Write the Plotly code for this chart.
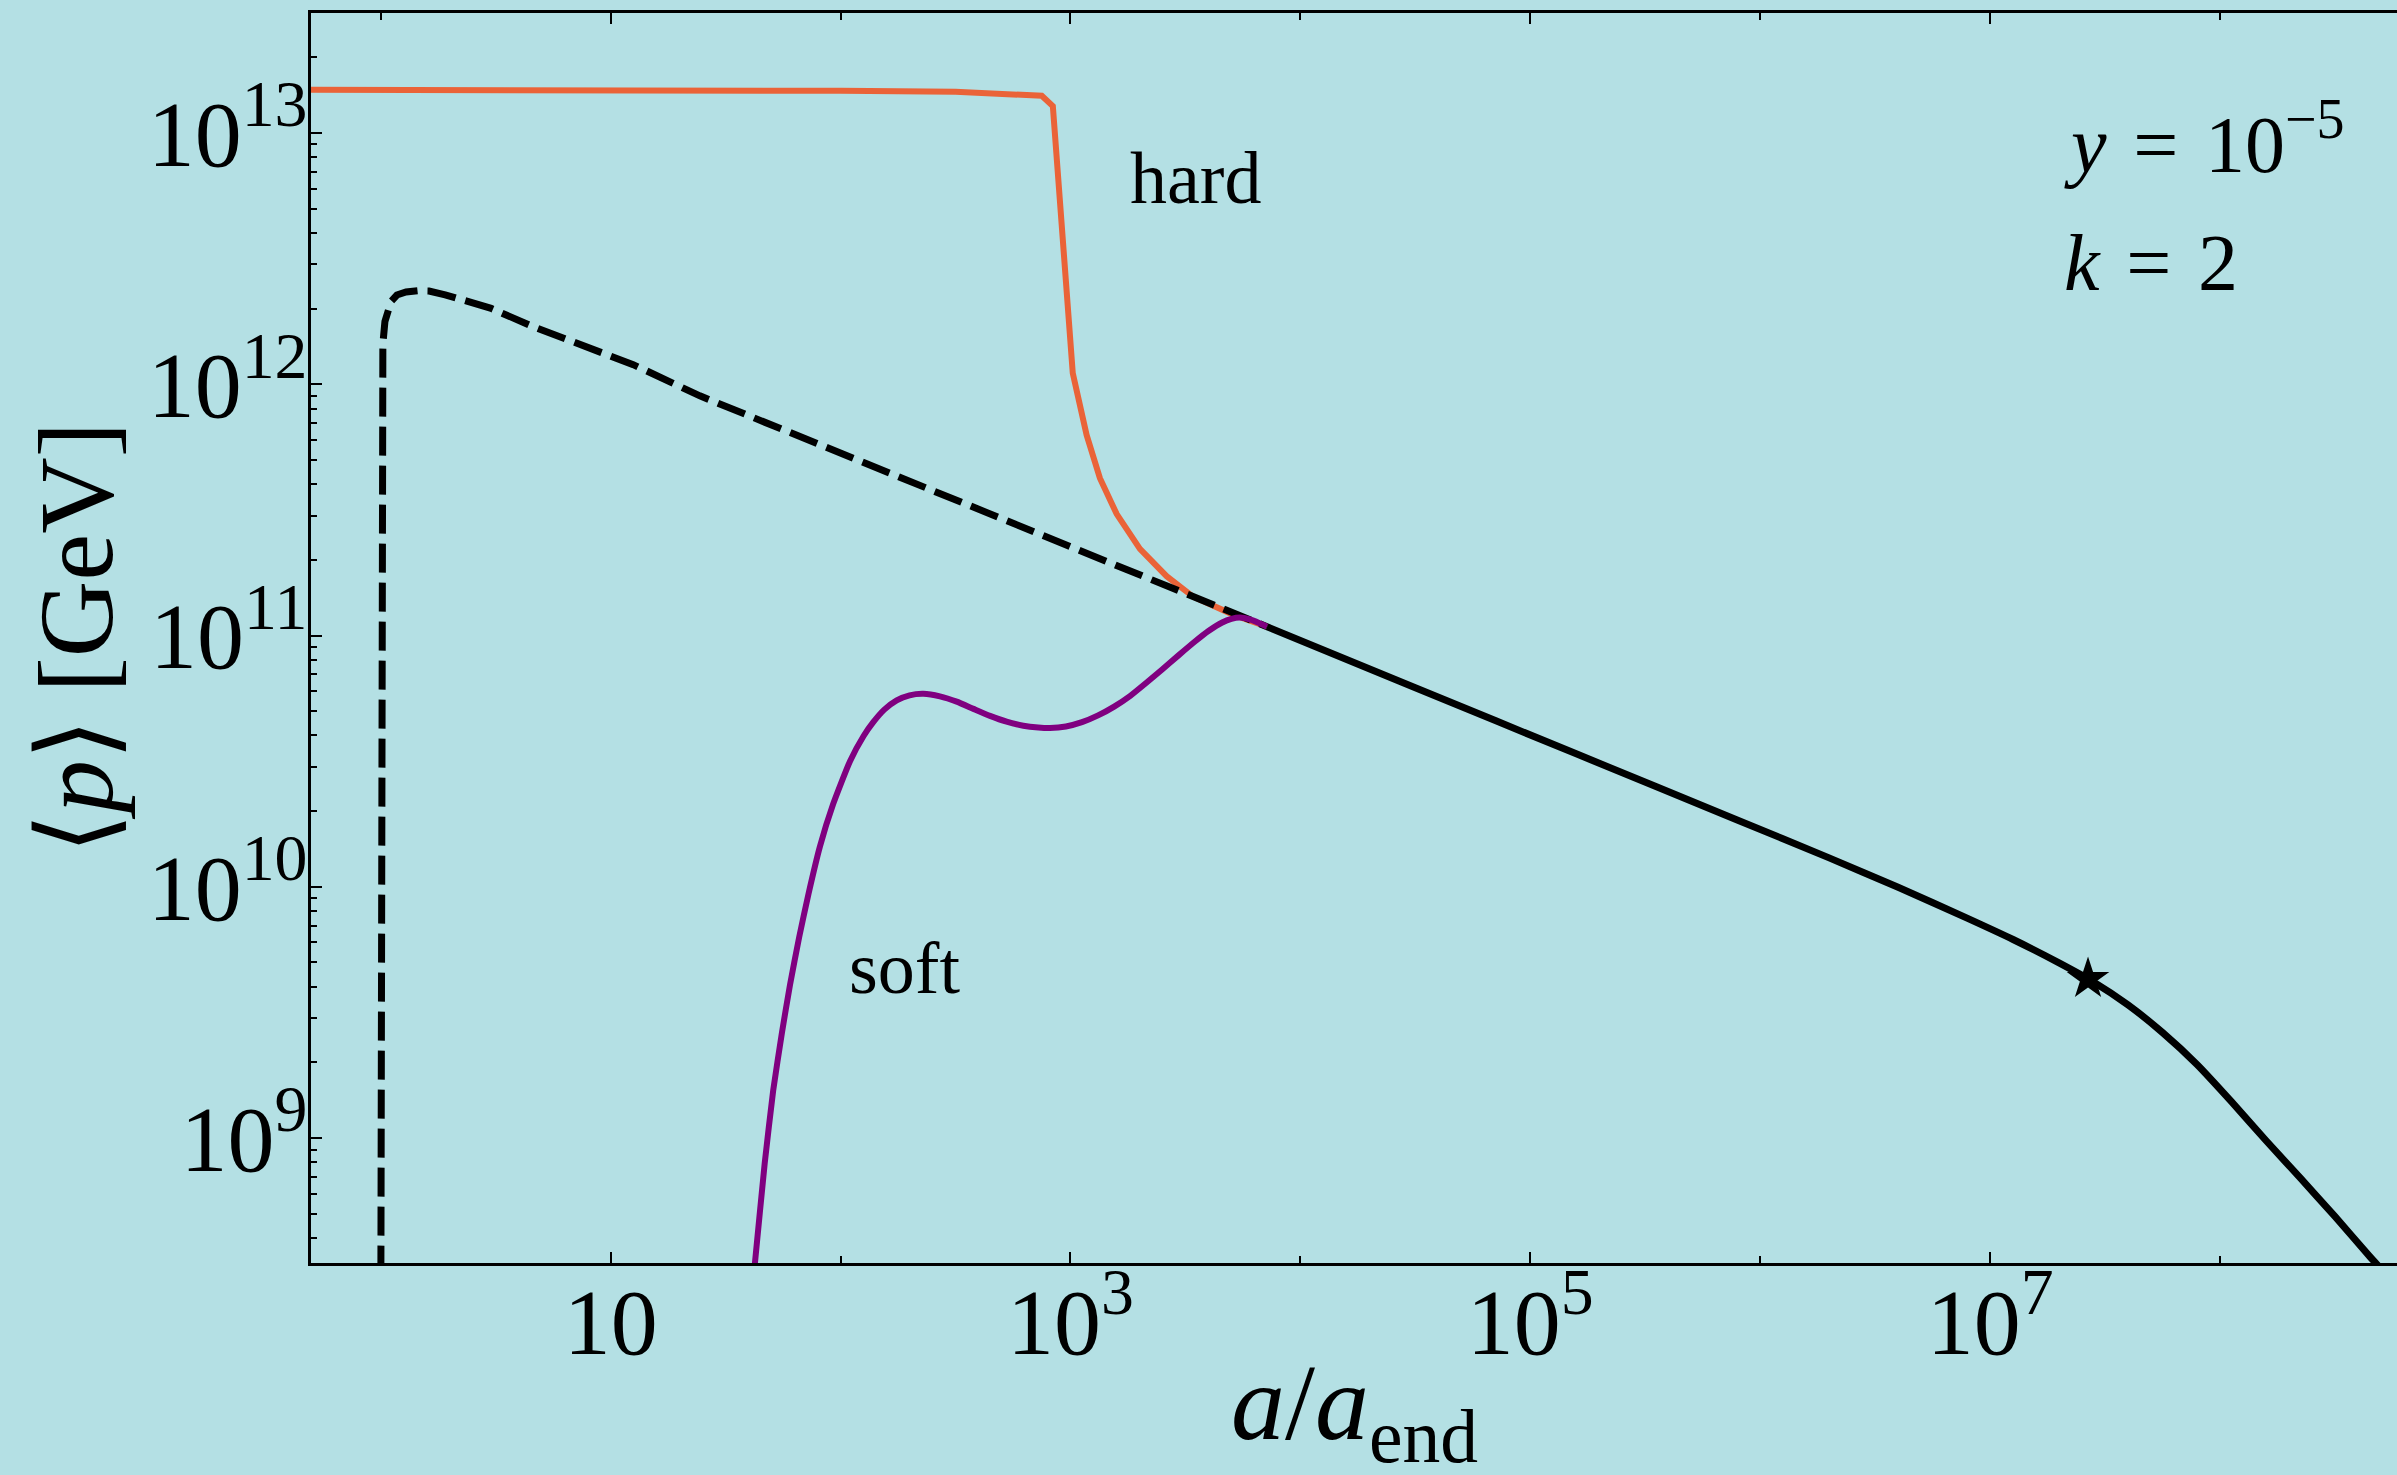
import plotly.graph_objects as go

# ---- data -------------------------------------------------------------
# hard component (orange)
a_hard = [0.49, 10, 100, 316, 676, 750, 838, 1023, 1175, 1343, 1589,
          2004, 2618, 3420, 5093, 7161]
p_hard = [1.486e13, 1.483e13, 1.472e13, 1.459e13, 1.429e13, 1.406e13,
          1.279e13, 1.107e12, 6.28e11, 4.227e11, 3.041e11, 2.213e11,
          1.722e11, 1.426e11, 1.211e11, 1.084e11]

# soft component (purple)
a_soft = [39.81, 42.46, 46.77, 50.93, 55.59, 60.26, 66.07, 72.44, 81.28,
          92.90, 109.9, 125.9, 138.7, 154.9, 175.4, 199.5, 229.1, 270.4,
          319.9, 378.4, 446.7, 527.2, 623.7, 724.4, 814.7, 955.0, 1122,
          1318, 1549, 1820, 2138, 2512, 2951, 3467, 3981, 4571, 5012, 5458,
          6026, 6607, 7161]
p_soft = [1.82e8, 3.221e8, 7.943e8, 1.549e9, 2.630e9, 4.074e9, 6.310e9,
          9.333e9, 1.445e10, 2.138e10, 3.162e10, 3.981e10, 4.519e10,
          5.070e10, 5.521e10, 5.781e10, 5.861e10, 5.728e10, 5.458e10,
          5.105e10, 4.786e10, 4.539e10, 4.375e10, 4.305e10, 4.285e10,
          4.345e10, 4.519e10, 4.808e10, 5.212e10, 5.754e10, 6.486e10,
          7.345e10, 8.337e10, 9.441e10, 1.042e11, 1.127e11, 1.164e11,
          1.178e11, 1.159e11, 1.122e11, 1.084e11]

# total mean momentum before thermalisation (black dashed)
a_early = [1.0, 1.0046, 1.0093, 1.0139, 1.0209, 1.0423, 1.074, 1.1092,
           1.1749, 1.2882, 1.4454, 1.6218, 1.9055, 2.366, 3.020, 4.603,
           12.53, 24.43, 100, 528.4, 1995, 7161]
p_early = [2.0e8, 3.16e10, 3.16e11, 7.94e11, 1.445e12, 1.778e12, 1.982e12,
           2.138e12, 2.265e12, 2.328e12, 2.355e12, 2.350e12, 2.270e12,
           2.133e12, 2.004e12, 1.694e12, 1.197e12, 8.995e11, 5.309e11,
           2.891e11, 1.754e11, 1.084e11]

# total mean momentum after thermalisation (black solid)
a_late = [7161, 3.162e4, 1.585e5, 7.943e5, 1.995e6, 3.981e6, 7.943e6,
          1.259e7, 1.995e7, 2.818e7, 3.981e7, 5.623e7, 7.943e7, 1.122e8,
          1.585e8, 2.239e8, 3.162e8, 4.467e8, 6.310e8]
p_late = [1.084e11, 6.194e10, 3.381e10, 1.845e10, 1.303e10, 9.954e9,
          7.499e9, 6.166e9, 4.977e9, 4.178e9, 3.388e9, 2.630e9, 1.963e9,
          1.396e9, 9.772e8, 6.918e8, 4.875e8, 3.388e8, 2.399e8]

# marked point on the late-time curve
a_star = [2.667e7]
p_star = [4.30e9]

# axis ticks
x_major = [10, 1e3, 1e5, 1e7]
x_major_text = ["10", "10<sup>3</sup>", "10<sup>5</sup>", "10<sup>7</sup>"]
x_minor = [1, 1e2, 1e4, 1e6, 1e8]
y_major = [1e9, 1e10, 1e11, 1e12, 1e13]
y_major_text = ["10<sup>9</sup>", "10<sup>10</sup>", "10<sup>11</sup>",
                "10<sup>12</sup>", "10<sup>13</sup>"]
y_minor = [m * 10 ** e for e in range(8, 14) for m in range(2, 10)]

# ---- styling ----------------------------------------------------------
BG = "#b4e0e4"
ORANGE = "#ea6338"
PURPLE = "#800080"
FONT = "Liberation Serif"
SP = "\u2004"  # slightly wider space around relation signs

fig = go.Figure()

fig.add_trace(go.Scatter(x=a_hard, y=p_hard, mode="lines",
                         line=dict(color=ORANGE, width=6)))
fig.add_trace(go.Scatter(x=a_early, y=p_early, mode="lines",
                         line=dict(color="black", width=7, dash="29px,10px")))
fig.add_trace(go.Scatter(x=a_soft, y=p_soft, mode="lines",
                         line=dict(color=PURPLE, width=6, shape="spline",
                                   smoothing=0.5)))
fig.add_trace(go.Scatter(x=a_late, y=p_late, mode="lines",
                         line=dict(color="black", width=7, shape="spline",
                                   smoothing=0.5)))
fig.add_trace(go.Scatter(x=a_star, y=p_star, mode="markers",
                         marker=dict(symbol="star", size=32, color="black",
                                     line=dict(width=0))))

axis_common = dict(
    type="log", showgrid=False, zeroline=False,
    showline=True, linecolor="black", linewidth=2.5,
    ticks="inside", tickcolor="black", tickwidth=2, ticklen=11,
    tickfont=dict(family=FONT, size=94, color="black"),
    automargin=False,
)

fig.update_xaxes(
    **axis_common,
    range=[-0.3036, 8.770],
    mirror="ticks",
    ticklabelstandoff=-25,
    tickmode="array", tickvals=x_major, ticktext=x_major_text,
    minor=dict(tickmode="array", tickvals=x_minor, ticks="inside",
               ticklen=7, tickwidth=2, tickcolor="black", showgrid=False),
)
fig.update_yaxes(
    **axis_common,
    range=[8.5025, 13.4776],
    mirror=False,
    ticklabelstandoff=-18,
    tickmode="array", tickvals=y_major, ticktext=y_major_text,
    minor=dict(tickmode="array", tickvals=y_minor, ticks="inside",
               ticklen=6, tickwidth=2, tickcolor="black", showgrid=False),
    title=dict(text="⟨<i>p</i>⟩ [GeV]",
               font=dict(family=FONT, size=106, color="black"), standoff=0),
)

# x-axis title placed low in the bottom margin
fig.add_annotation(x=0.5, y=0, xref="paper", yref="paper",
                   xanchor="center", yanchor="top", yshift=-78,
                   text="<i>a</i>/<i>a</i><sub>end</sub>", showarrow=False,
                   font=dict(family=FONT, size=108, color="black"))

label_font = dict(family=FONT, size=74, color="black")
param_font = dict(family=FONT, size=80, color="black")
annotations = [
    dict(x=3.25, y=12.82, text="hard", font=label_font),
    dict(x=2.026, y=9.678, text="soft", font=label_font),
    dict(x=7.313, y=12.98, text=f"<i>y</i>{SP}={SP}10<sup>−5</sup>",
         font=param_font),
    dict(x=7.313, y=12.483, text=f"<i>k</i>{SP}={SP}2", font=param_font),
]
for ann in annotations:
    fig.add_annotation(**ann, xref="x", yref="y", showarrow=False,
                       xanchor="left", yanchor="middle")

fig.update_layout(
    width=2397, height=1475,
    margin=dict(l=311, r=0, t=13, b=212),
    paper_bgcolor=BG, plot_bgcolor=BG,
    showlegend=False,
)

fig.write_html("out.html")
